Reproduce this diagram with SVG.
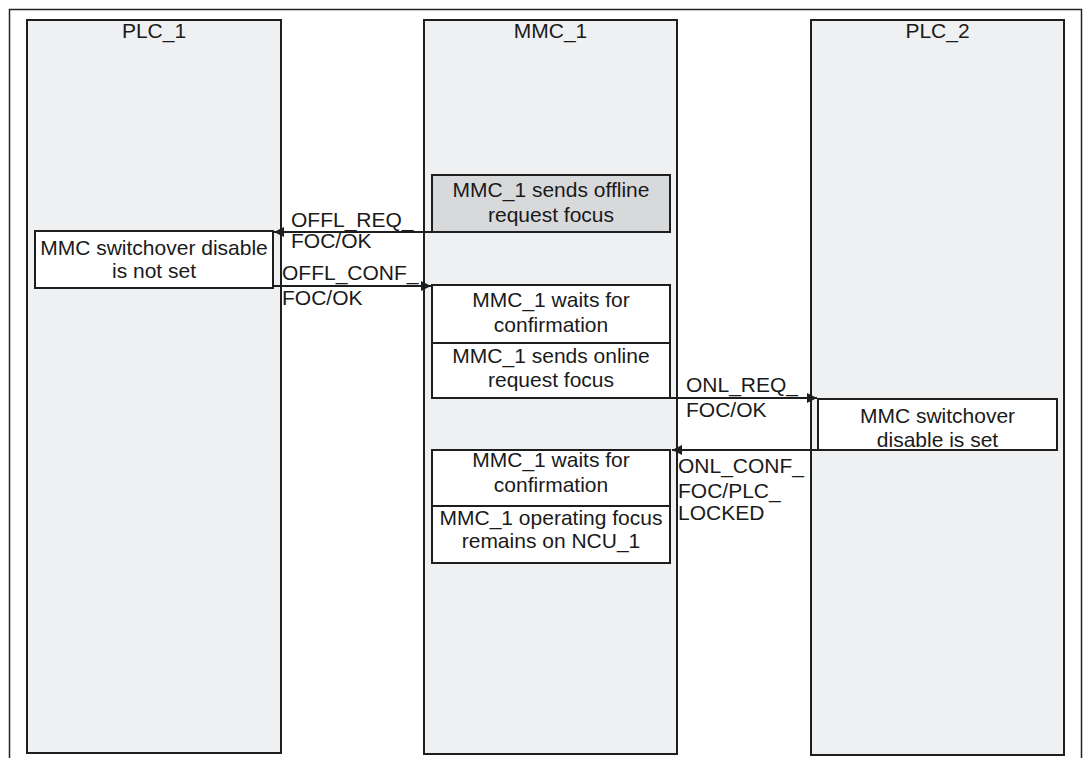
<svg xmlns="http://www.w3.org/2000/svg" width="1083" height="758" viewBox="0 0 1083 758">
  <style>
    .frame { fill: #ffffff; stroke: #222222; stroke-width: 1.5; }
    .lane { fill: #eff0f2; stroke: #1e1e1e; stroke-width: 2; }
    .step { fill: #ffffff; stroke: #1e1e1e; stroke-width: 2; }
    .step-active { fill: #d8d9db; stroke: #1e1e1e; stroke-width: 2; }
    text { font-family: "Liberation Sans", Arial, sans-serif; font-size: 21px; fill: #1a1a1a; }
    .c { text-anchor: middle; }
    .msg { stroke: #1e1e1e; stroke-width: 2; fill: none; marker-end: url(#arrow); }
  </style>
  <defs>
    <marker id="arrow" viewBox="0 0 10 10" refX="10" refY="5" markerWidth="11" markerHeight="10" markerUnits="userSpaceOnUse" orient="auto">
      <path d="M0,0 L10,5 L0,10 z" fill="#1e1e1e"/>
    </marker>
  </defs>

  <!-- outer frame, open at the bottom -->
  <rect class="frame" x="9.5" y="9.5" width="1072" height="760"/>

  <!-- lanes -->
  <g id="lane-plc1">
    <rect class="lane" x="27" y="20" width="254" height="733"/>
    <text class="c" x="154" y="38">PLC_1</text>
  </g>
  <g id="lane-mmc1">
    <rect class="lane" x="424" y="20" width="253" height="734"/>
    <text class="c" x="550.5" y="38">MMC_1</text>
  </g>
  <g id="lane-plc2">
    <rect class="lane" x="811" y="20" width="253" height="735"/>
    <text class="c" x="937.5" y="38">PLC_2</text>
  </g>

  <!-- steps -->
  <g id="step-offline-request">
    <rect class="step-active" x="432" y="175" width="238" height="57"/>
    <text class="c" x="551" y="197">MMC_1 sends offline</text>
    <text class="c" x="551" y="222">request focus</text>
  </g>
  <g id="step-plc1-not-set">
    <rect class="step" x="35" y="231" width="238" height="57"/>
    <text class="c" x="154" y="255">MMC switchover disable</text>
    <text class="c" x="154" y="278">is not set</text>
  </g>
  <g id="step-wait-1">
    <rect class="step" x="432" y="285" width="238" height="58"/>
    <text class="c" x="551" y="307">MMC_1 waits for</text>
    <text class="c" x="551" y="332">confirmation</text>
  </g>
  <g id="step-online-request">
    <rect class="step" x="432" y="343" width="238" height="55"/>
    <text class="c" x="551" y="363">MMC_1 sends online</text>
    <text class="c" x="551" y="387">request focus</text>
  </g>
  <g id="step-plc2-set">
    <rect class="step" x="818" y="399" width="239" height="51"/>
    <text class="c" x="937.5" y="423">MMC switchover</text>
    <text class="c" x="937.5" y="447">disable is set</text>
  </g>
  <g id="step-wait-2">
    <rect class="step" x="432" y="450" width="238" height="56"/>
    <text class="c" x="551" y="467">MMC_1 waits for</text>
    <text class="c" x="551" y="492">confirmation</text>
  </g>
  <g id="step-focus-remains">
    <rect class="step" x="432" y="506" width="238" height="57"/>
    <text class="c" x="551" y="525">MMC_1 operating focus</text>
    <text class="c" x="551" y="548">remains on NCU_1</text>
  </g>

  <!-- messages -->
  <g id="connectors">
    <line class="msg" x1="432" y1="232" x2="274" y2="232"/>
    <line class="msg" x1="273" y1="286" x2="431" y2="286"/>
    <line class="msg" x1="670" y1="398" x2="817" y2="398"/>
    <line class="msg" x1="818" y1="450" x2="672" y2="450"/>
  </g>

  <!-- message labels -->
  <g id="labels">
    <text x="291" y="227">OFFL_REQ_</text>
    <text x="291" y="248">FOC/OK</text>
    <text x="282" y="280">OFFL_CONF_</text>
    <text x="282" y="305">FOC/OK</text>
    <text x="686" y="392">ONL_REQ_</text>
    <text x="686" y="417">FOC/OK</text>
    <text x="678" y="473">ONL_CONF_</text>
    <text x="678" y="498">FOC/PLC_</text>
    <text x="678" y="520">LOCKED</text>
  </g>
</svg>
